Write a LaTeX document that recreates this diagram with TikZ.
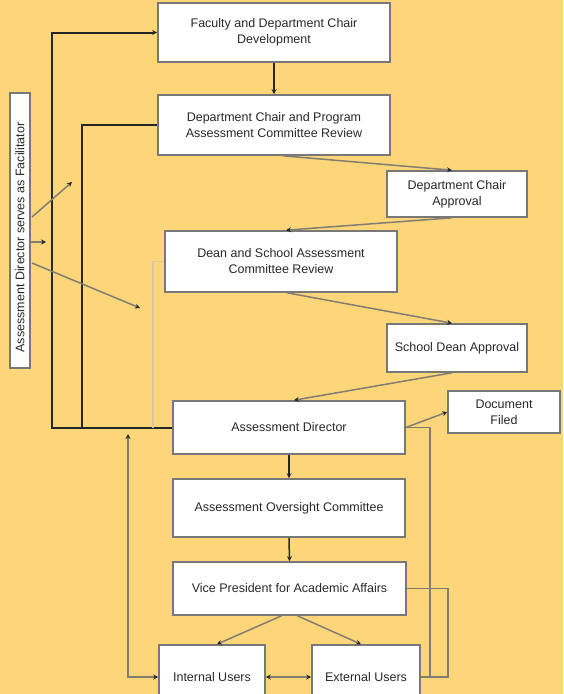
\documentclass[tikz,border=0pt]{standalone}
\usepackage{fontspec}
\setmainfont{Liberation Sans}
\usetikzlibrary{arrows.meta,calc}
\definecolor{bgc}{RGB}{253,214,122}
\definecolor{boxline}{RGB}{120,120,120}
\definecolor{conn}{RGB}{130,125,115}
\definecolor{paleconn}{RGB}{215,200,165}
\definecolor{txt}{RGB}{40,40,40}
\begin{document}
\begin{tikzpicture}[x=1pt,y=-1pt,
  box/.style={draw=boxline,line width=1.6pt,fill=white,align=center,inner sep=2pt,
    font=\fontsize{12.5}{16}\selectfont,text=txt},
  tip/.style={-{Stealth[length=5pt,width=5pt,color=black!85]}},
  bothtips/.style={{Stealth[length=5pt,width=5pt,color=black!85]}-{Stealth[length=5pt,width=5pt,color=black!85]}},
  thickline/.style={draw=black!85,line width=2pt},
  greyline/.style={draw=conn,line width=1.5pt},
  paleline/.style={draw=paleconn,line width=1.5pt}]
\clip (0,0) rectangle (563,694);
\fill[bgc] (0,0) rectangle (563,694);

\node[box,minimum width=232,minimum height=59] (fac) at (274,32.5) {Faculty and Department Chair\\Development};
\node[box,minimum width=232,minimum height=60] (dcp) at (274,125) {Department Chair and Program\\Assessment Committee Review};
\node[box,minimum width=140,minimum height=46] (dca) at (457,194) {Department Chair\\Approval};
\node[box,minimum width=232,minimum height=61] (dean) at (281,261.5) {Dean and School Assessment\\Committee Review};
\node[box,minimum width=140,minimum height=48] (sda) at (457,348) {School Dean Approval};
\node[box,minimum width=232,minimum height=53] (dir) at (289,427.5) {Assessment Director};
\node[box,minimum width=112,minimum height=42] (doc) at (504,412) {Document\\Filed};
\node[box,minimum width=232,minimum height=58] (aoc) at (289,508) {Assessment Oversight Committee};
\node[box,minimum width=233,minimum height=53] (vp) at (289.5,588.5) {Vice President for Academic Affairs};
\node[box,minimum width=106,minimum height=64] (int) at (212,677) {Internal Users};
\node[box,minimum width=108,minimum height=64] (ext) at (366,677) {External Users};
\node[box,minimum width=275,minimum height=20,rotate=90,inner sep=0pt] (fac2) at (20,230.5) {\hspace*{-14pt}Assessment Director serves as Facilitator};

% thick black connectors on the left
\draw[thickline,tip] (dir.west) -- (52,427.5) |- (fac.west);
\draw[thickline] (82,427.5) |- (dcp.west);

% pale line from dean box
\draw[paleline] (dean.west) -| (153,427.5);

% main flow
\draw[thickline,line width=1.5pt,tip] (fac.south) -- (dcp.north);
\draw[greyline,tip] ([xshift=9pt]dcp.south) -- ([xshift=-5pt]dca.north);
\draw[greyline,tip] ([xshift=-5pt]dca.south) -- ([xshift=5pt]dean.north);
\draw[greyline,tip] ([xshift=6pt]dean.south) -- ([xshift=-5pt]sda.north);
\draw[greyline,tip] ([xshift=-5pt]sda.south) -- ([xshift=5pt]dir.north);
\draw[greyline,tip] (dir.east) -- (doc.west);
\draw[greyline] (dir.east) -- (430,427.5) |- (ext.east);
\draw[greyline] (vp.east) -- (448,588.5) |- (ext.east);
\draw[thickline,line width=1.5pt,tip] (dir.south) -- (aoc.north);
\draw[thickline,line width=1.5pt,tip] (aoc.south) -- (vp.north);
\draw[greyline,tip] ([xshift=-8pt]vp.south) -- ([xshift=5pt]int.north);
\draw[greyline,tip] ([xshift=8pt]vp.south) -- ([xshift=-5pt]ext.north);
\draw[greyline,bothtips] (int.east) -- (ext.west);
\coordinate (up) at (128,434);
\draw[greyline,bothtips] (up) |- (int.west);

% facilitator connectors
\coordinate (f1) at (72,182);
\coordinate (f2) at (46,242);
\coordinate (f3) at (140,308);
\draw[greyline,tip] ($(fac2.center)+(12,-13.5)$) -- (f1);
\draw[greyline,tip] ($(fac2.center)+(10,11.5)$) -- (f2);
\draw[greyline,tip] ($(fac2.center)+(12,32.5)$) -- (f3);
\end{tikzpicture}
\end{document}
